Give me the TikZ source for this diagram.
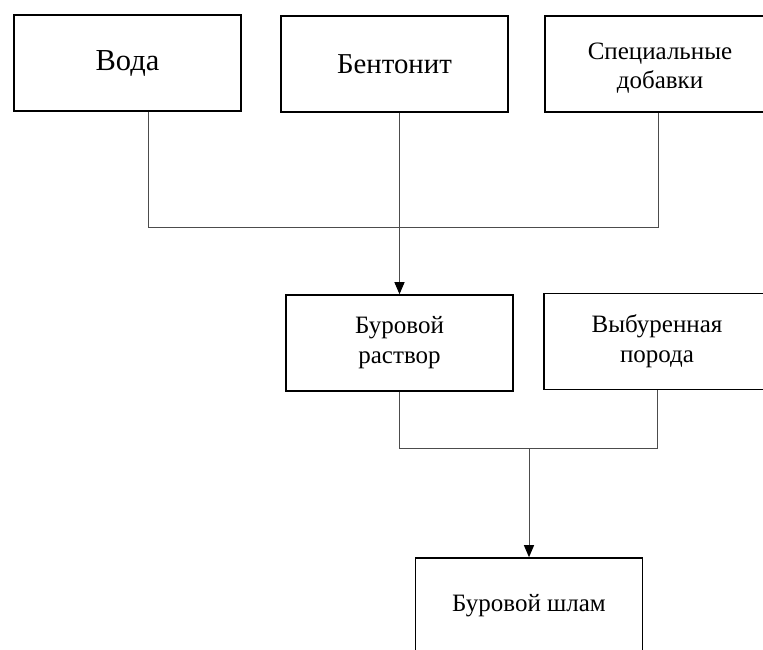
\documentclass[tikz,border=0pt]{standalone}
\usepackage{fontspec}
\setmainfont{Liberation Serif}
\usetikzlibrary{arrows.meta,calc}
\begin{document}
\begin{tikzpicture}[x=1pt,y=-1pt,
  box/.style={draw=black,line width=1.6pt,minimum width=227pt,minimum height=96pt,inner sep=0pt,align=center},
  txt/.style={inner sep=0pt,align=center},
  conn/.style={draw=black!70,line width=1pt},
  arr/.style={conn,-{Triangle[width=10pt,length=12pt,fill=black,color=black]}}]
\useasboundingbox (0,0) rectangle (763,649);
\begin{scope}
\clip (0,0) rectangle (763,649);
\node[box,font=\fontsize{30.5}{34}\selectfont] (voda) at (127.5,63) {Вода};
\node[box,font=\fontsize{28.8}{32}\selectfont] (bent) at (394.5,64) {Бентонит};
\node[box,minimum width=230pt] (spec) at (660,64) {};
\node[txt,font=\fontsize{25}{29}\selectfont] (spect) at (660,68) {Специальные\\добавки};
\node[box,font=\fontsize{25}{30}\selectfont] (rast) at (399.5,343) {Буровой\\раствор};
\node[box,minimum width=226pt,font=\fontsize{25}{30}\selectfont] (poroda) at (657,341.5) {Выбуренная\\порода};
\node[box,font=\fontsize{25}{29}\selectfont] (shlam) at (529,606) {Буровой шлам};
\coordinate (j1) at (148,227);
\coordinate (j2) at (658,227);
\coordinate (j3) at (399.5,448);
\coordinate (j4) at (529,448);
\end{scope}
\draw[conn] (voda.south -| j1) -- (j1) -- (j2) -- (spec.south -| j2);
\draw[arr] (rast.north |- bent.south) -- (rast.north);
\draw[conn] (rast.south) -- (j3) -| (poroda.south);
\draw[arr] (j4) -- (shlam.north);
\end{tikzpicture}
\end{document}
